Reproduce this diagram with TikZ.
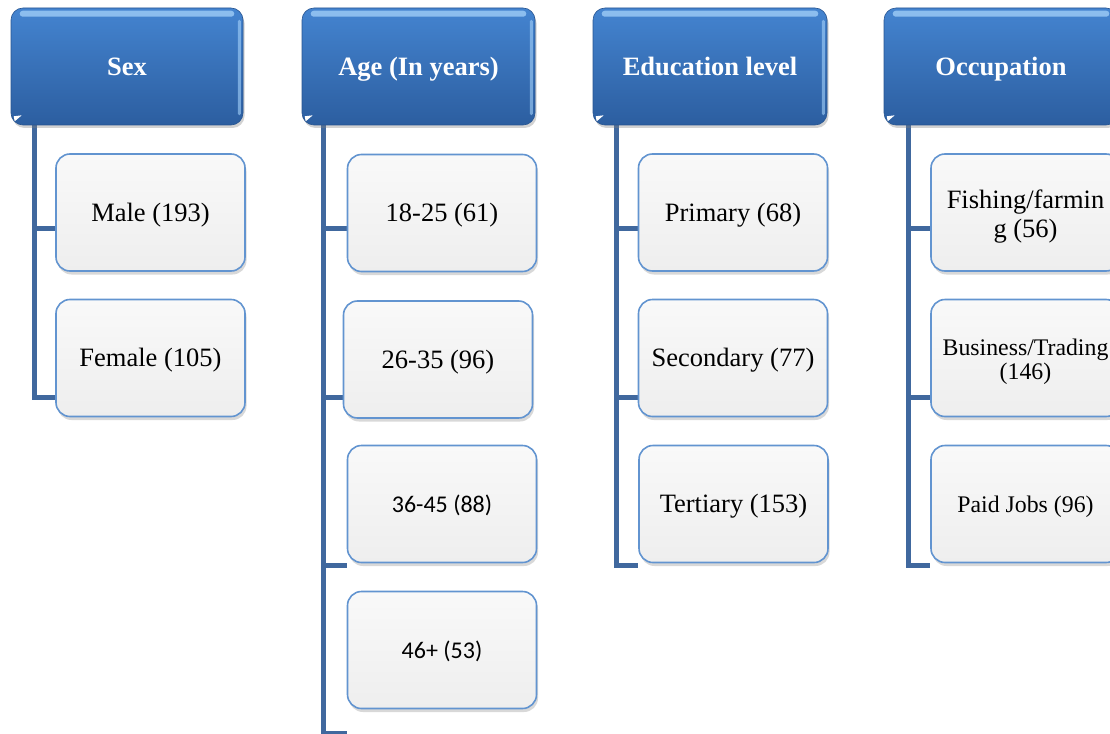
\documentclass[tikz,border=0pt]{standalone}
\usepackage{fontspec}
\setmainfont{Liberation Serif}
\newfontfamily\calibrifont{Carlito}
\usetikzlibrary{shadows}
\pgfdeclarelayer{background}
\pgfsetlayers{background,main}
\definecolor{lineblue}{RGB}{64,104,158}
\definecolor{htop}{RGB}{68,132,208}
\definecolor{hbot}{RGB}{44,94,160}
\definecolor{hedge}{RGB}{40,85,145}
\definecolor{glosscol}{RGB}{165,210,250}
\definecolor{cbord}{RGB}{98,148,208}
\definecolor{ctop}{RGB}{249,249,249}
\definecolor{cbot}{RGB}{238,238,238}
\tikzset{
  hdr/.style={rectangle, rounded corners=12pt, minimum width=233pt, minimum height=117pt,
    top color=htop, bottom color=hbot, draw=hedge, line width=0.6pt, text=white,
    font=\bfseries\fontsize{26.5}{30}\selectfont, inner sep=0pt,
    text height=22pt, text depth=4pt,
    drop shadow={opacity=0.35, shadow xshift=1.5pt, shadow yshift=-3pt}},
  item/.style={rectangle, rounded corners=14pt, minimum width=189pt, minimum height=117pt,
    top color=ctop, bottom color=cbot, draw=cbord, line width=1.6pt,
    font=\fontsize{26.5}{29.5}\selectfont, inner sep=0pt,
    drop shadow={opacity=0.3, shadow xshift=1.5pt, shadow yshift=-3.5pt}},
  oneline/.style={text height=21pt, text depth=4pt},
  smalltxt/.style={font=\fontsize{23.8}{24}\selectfont},
  calitxt/.style={font=\calibrifont\fontsize{24}{28}\selectfont},
  trunk/.style={draw=lineblue, line width=5pt},
  gloss/.style={fill=glosscol, opacity=0.75, rounded corners=3pt},
}
\begin{document}
\begin{tikzpicture}[x=1pt,y=-1pt]
\useasboundingbox (0,0) rectangle (1110,733);
\clip (0,0) rectangle (1110,733);

% headers
\node[hdr, minimum width=232pt] (hsex) at (127,66.5) {Sex};
\node[hdr] (hage) at (418.5,66.5) {Age (In years)};
\node[hdr, minimum width=234pt] (hedu) at (710,66.5) {Education level};
\node[hdr, minimum width=234pt] (hocc) at (1001,66.5) {Occupation};
\foreach \h in {hsex,hage,hedu,hocc}{
  \fill[gloss] ([xshift=9pt,yshift=-3pt]\h.north west) rectangle ([xshift=-9pt,yshift=-9pt]\h.north east);
  \fill[gloss, opacity=0.6, rounded corners=1.5pt] ([xshift=-5.5pt,yshift=-12pt]\h.north east) rectangle ([xshift=-2.5pt,yshift=10pt]\h.south east);
  \fill[white] ([xshift=3pt,yshift=9pt]\h.south west) -- ([xshift=11pt,yshift=10pt]\h.south west) -- ([xshift=4pt,yshift=4pt]\h.south west) -- cycle;
}

% items
\node[item, oneline] (male) at (150.5,212.5) {Male (193)};
\node[item, oneline] (female) at (150.5,358) {Female (105)};
\node[item, oneline] (a1) at (442,213) {18-25 (61)};
\node[item, oneline] (a2) at (438,359.5) {26-35 (96)};
\node[item, calitxt, oneline] (a3) at (442,504) {36-45 (88)};
\node[item, calitxt, oneline] (a4) at (442,650) {46+ (53)};
\node[item, oneline] (e1) at (733,212.5) {Primary (68)};
\node[item, oneline] (e2) at (733,358) {Secondary (77)};
\node[item, oneline] (e3) at (733.5,504) {Tertiary (153)};
\node[item] (o1) at (1025.5,212.5) {\raisebox{-4.5pt}[\height][\depth]{\begin{tabular}{@{}c@{}}Fishing/farmin\\g (56)\end{tabular}}};
\node[item, smalltxt] (o2) at (1025.5,358) {\raisebox{-4.5pt}[\height][\depth]{\begin{tabular}{@{}c@{}}Business/Trading\\(146)\end{tabular}}};
\node[item, smalltxt, oneline] (o3) at (1025.5,504) {Paid Jobs (96)};

% connectors
\begin{pgfonlayer}{background}
\fill[white] (0,0) rectangle (1110,733);
\coordinate (ts) at (34,125);
\coordinate (ta) at (323,125);
\coordinate (te) at (616,125);
\coordinate (to) at (908,125);
\draw[trunk] (ts) |- (female.west |- 0,397);
\draw[trunk] (34,228) -- (male.west |- 0,228);
\draw[trunk] (ta) |- (a4.west |- 0,733);
\draw[trunk] (323,228) -- (a1.west |- 0,228);
\draw[trunk] (323,397) -- (a2.west |- 0,397);
\draw[trunk] (323,565) -- (a3.west |- 0,565);
\draw[trunk] (te) |- (e3.west |- 0,565);
\draw[trunk] (616,228) -- (e1.west |- 0,228);
\draw[trunk] (616,397) -- (e2.west |- 0,397);
\draw[trunk] (to) |- (o3.west |- 0,565);
\draw[trunk] (908,228) -- (o1.west |- 0,228);
\draw[trunk] (908,397) -- (o2.west |- 0,397);
\end{pgfonlayer}
\end{tikzpicture}
\end{document}
